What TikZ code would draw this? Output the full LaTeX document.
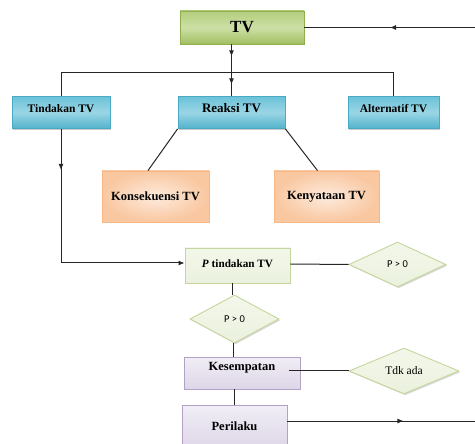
\documentclass[tikz,border=0pt]{standalone}
\usepackage{fontspec}
\setmainfont{Liberation Serif}[BoldFont={Liberation Serif Bold}, ItalicFont={Liberation Serif Italic}, BoldItalicFont={Liberation Serif Bold Italic}]
\newfontfamily\calib{Carlito}
\usetikzlibrary{shapes.geometric,arrows.meta,decorations.markings,shadows,calc}
\definecolor{tvborder}{HTML}{8EAF4C}
\definecolor{tvtop}{HTML}{B3CD7C}
\definecolor{tvmid}{HTML}{CCE0A6}
\definecolor{tvbot}{HTML}{A2BF62}
\definecolor{blborder}{HTML}{4AAAC4}
\definecolor{bltop}{HTML}{6CC2D9}
\definecolor{blmid}{HTML}{9AD5E4}
\definecolor{blbot}{HTML}{52B3CC}
\definecolor{orborder}{HTML}{F7B787}
\definecolor{orin}{HTML}{FDEBDD}
\definecolor{orout}{HTML}{F9C7A0}
\definecolor{lgborder}{HTML}{C3D69B}
\definecolor{lgfill}{HTML}{EBF1DE}
\definecolor{lgtop}{HTML}{F3F7EA}
\definecolor{pborder}{HTML}{B3A2C7}
\definecolor{ptop}{HTML}{F1EEF5}
\definecolor{pbot}{HTML}{DDD6E8}
\tikzset{
  base/.style={draw, line width=0.9pt, inner sep=0pt, align=center,
    drop shadow={shadow xshift=1.3pt, shadow yshift=-1.3pt, opacity=0.3, fill=black!70}},
  tvbox/.style={base, draw=tvborder, top color=tvtop, bottom color=tvbot, middle color=tvmid,
    font=\bfseries\fontsize{17}{20}\selectfont},
  bluebox/.style={base, draw=blborder, top color=bltop, bottom color=blbot, middle color=blmid,
    font=\bfseries\fontsize{11.5}{13}\selectfont},
  orbox/.style={base, draw=orborder, inner color=orin, outer color=orout,
    font=\bfseries\fontsize{12.5}{14}\selectfont},
  lgbox/.style={base, draw=lgborder, top color=lgtop, bottom color=lgfill,
    font=\bfseries\fontsize{11.2}{13}\selectfont},
  pbox/.style={base, draw=pborder, top color=ptop, bottom color=pbot,
    font=\bfseries\fontsize{12.5}{14}\selectfont},
  dia/.style={diamond, aspect=2, draw=lgborder, line width=0.9pt, inner sep=0pt,
    top color=lgtop, bottom color=lgfill,
    drop shadow={shadow xshift=1.3pt, shadow yshift=-1.3pt, opacity=0.25, fill=black!60}},
  conn/.style={draw=black!85, line width=1pt},
  tip/.style={-{Latex[length=6pt,width=5pt]}},
  midarrow/.style={postaction={decorate, decoration={markings,
    mark=at position #1 with {\arrow{Latex[length=6pt,width=5pt]}}}}},
}
\begin{document}
\begin{tikzpicture}[x=1pt,y=-1pt]
\useasboundingbox (0,0) rectangle (475,444);
\clip (0,0) rectangle (475,444);
% nodes
\node[tvbox, minimum width=124pt, minimum height=33pt] (tv) at (242,27.5) {TV};
\node[bluebox, minimum width=98pt, minimum height=32pt] (tind) at (61,112.5) {\raisebox{4pt}[\height][\depth]{Tindakan TV}};
\node[bluebox, minimum width=107pt, minimum height=32pt, font=\bfseries\fontsize{13}{15}\selectfont] (reak) at (231.5,112.5) {\raisebox{4pt}[\height][\depth]{Reaksi TV}};
\node[bluebox, minimum width=91pt, minimum height=32pt] (alt) at (393.5,112.5) {\raisebox{4pt}[\height][\depth]{Alternatif TV}};
\node[orbox, minimum width=107pt, minimum height=51pt] (kons) at (155.5,196.5) {Konsekuensi TV};
\node[orbox, minimum width=105pt, minimum height=51pt] (keny) at (326.5,196.5) {Kenyataan TV};
\node[lgbox, minimum width=105pt, minimum height=35pt] (ptind) at (237.5,265.5) {\raisebox{2pt}[\height][\depth]{\textit{P} tindakan TV}};
\node[dia, minimum width=97pt, minimum height=45pt, font=\calib\fontsize{10.5}{12}\selectfont] (d1) at (397.5,264.5) {P > 0};
\node[dia, minimum width=89pt, minimum height=48pt, font=\calib\fontsize{10.5}{12}\selectfont] (d2) at (234.5,319) {P > 0};
\node[pbox, minimum width=116pt, minimum height=32pt] (kes) at (242,373) {\raisebox{5pt}[\height][\depth]{Kesempatan}};
\node[dia, minimum width=110pt, minimum height=46pt, font=\fontsize{11.5}{13}\selectfont] (tdk) at (404,371) {Tdk ada};
\node[pbox, minimum width=105pt, minimum height=43pt] (peri) at (234.5,426.5) {Perilaku};
\coordinate (tvin) at (475,27.5);
\coordinate (periout) at (475,421);
% connectors
\draw[conn, midarrow=85pt] (tvin) -- (tv.east);
\draw[conn, midarrow=12pt] (tv.south -| reak.north) -- (reak.north);
\draw[conn, midarrow=40pt] (tv.south -| reak.north) -- (reak.north);
\draw[conn] (tind.north) -- ++(0,-24) -| (alt.north);
\draw[conn] (reak.south west) -- ($(kons.north)+(-7.5,0)$);
\draw[conn] (reak.south east) -- ($(keny.north)+(-9,0)$);
\draw[conn, midarrow=41pt, tip] (tind.south) |- ($(ptind.west)+(0,-2.5)$);
\draw[conn] ($(ptind.east)+(0,-1.5)$) -- (d1.west);
\draw[conn] (ptind.south -| d2.north) ++(-2,0) -- ($(d2.north)+(-2,0)$);
\draw[conn] ($(d2.south)+(-1.5,0)$) -- ($(kes.north -| d2.south)+(-1.5,0)$);
\draw[conn] ($(kes.east)+(-11,-3)$) -- ($(tdk.west)+(0,-1)$);
\draw[conn] (kes.south -| peri.north) -- (peri.north);
\draw[conn, midarrow=116pt] ($(peri.east)+(0,-5.5)$) -- (periout);
\end{tikzpicture}
\end{document}
